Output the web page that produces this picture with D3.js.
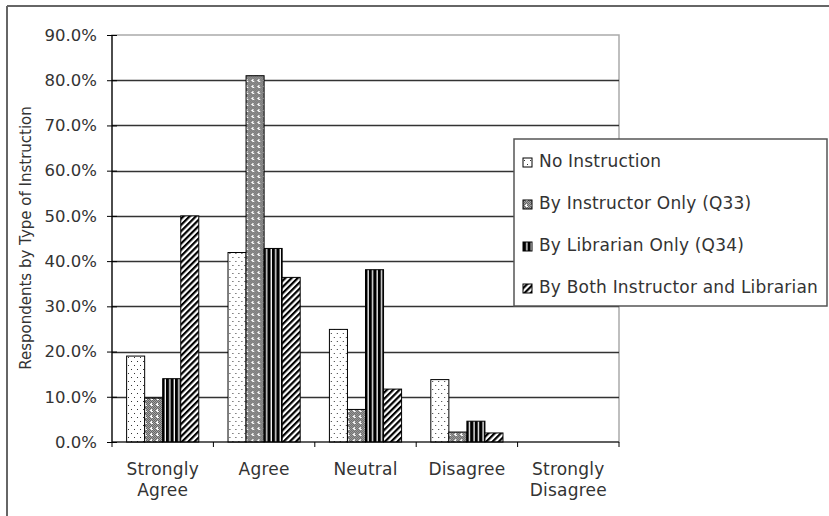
<!DOCTYPE html>
<html>
<head>
<meta charset="utf-8">
<script src="https://cdn.jsdelivr.net/npm/d3@7"></script>
<style>
  body { margin: 0; background: #fff; }
  svg { display: block; font-family: "DejaVu Sans", Verdana, sans-serif; }
</style>
</head>
<body>
<svg id="chart"></svg>
<script>
let categories = [['Strongly', 'Agree'], ['Agree'], ['Neutral'], ['Disagree'], ['Strongly', 'Disagree']];
let seriesNames = ['No Instruction', 'By Instructor Only (Q33)', 'By Librarian Only (Q34)', 'By Both Instructor and Librarian'];
let noInstruction = [19.0, 41.9, 24.9, 13.8, 0];
let instructorOnly = [9.7, 81.0, 7.2, 2.2, 0];
let librarianOnly = [14.0, 42.8, 38.1, 4.6, 0];
let bothInstructorLibrarian = [50.0, 36.4, 11.7, 2.0, 0];
let yTicks = [0, 10, 20, 30, 40, 50, 60, 70, 80, 90];

let series = [noInstruction, instructorOnly, librarianOnly, bothInstructorLibrarian];
let patternIds = ['pDots', 'pCheck', 'pVert', 'pDiag'];

let width = 829;
let height = 516;
let svg = d3.select('#chart').attr('width', width).attr('height', height);

let defs = svg.append('defs');

// dotted
let p1 = defs.append('pattern').attr('id', 'pDots').attr('patternUnits', 'userSpaceOnUse')
  .attr('width', 6).attr('height', 8);
p1.append('rect').attr('width', 6).attr('height', 8).attr('fill', '#fff');
p1.append('rect').attr('x', 1).attr('y', 1).attr('width', 1).attr('height', 1).attr('fill', '#333');
p1.append('rect').attr('x', 4).attr('y', 5).attr('width', 1).attr('height', 1).attr('fill', '#333');

// gray checker with white dots
let p2 = defs.append('pattern').attr('id', 'pCheck').attr('patternUnits', 'userSpaceOnUse')
  .attr('width', 6).attr('height', 6);
p2.append('rect').attr('width', 6).attr('height', 6).attr('fill', '#a4a4a4');
[[0, 0], [2, 0], [4, 0], [1, 1], [5, 1], [0, 2], [4, 2], [1, 3], [5, 3], [0, 4], [2, 4], [4, 4], [1, 5], [3, 5], [5, 5]].forEach(([x, y]) => {
  p2.append('rect').attr('x', x).attr('y', y).attr('width', 1).attr('height', 1).attr('fill', '#666');
});
[[3, 1], [2, 2], [3, 2], [4, 3], [3, 3]].forEach(([x, y]) => {
  p2.append('rect').attr('x', x).attr('y', y).attr('width', 1).attr('height', 1).attr('fill', '#fff');
});

// vertical stripes
let p3 = defs.append('pattern').attr('id', 'pVert').attr('patternUnits', 'userSpaceOnUse')
  .attr('width', 4.5).attr('height', 4);
p3.append('rect').attr('width', 4.5).attr('height', 4).attr('fill', '#fff');
p3.append('rect').attr('width', 3.2).attr('height', 4).attr('fill', '#000');

// diagonal stripes
let p4 = defs.append('pattern').attr('id', 'pDiag').attr('patternUnits', 'userSpaceOnUse')
  .attr('width', 4.4).attr('height', 4.4).attr('patternTransform', 'rotate(45)');
p4.append('rect').attr('width', 4.4).attr('height', 4.4).attr('fill', '#fff');
p4.append('rect').attr('width', 2.2).attr('height', 4.4).attr('fill', '#000');

// outer frame
svg.append('line').attr('x1', 7).attr('x2', width).attr('y1', 6).attr('y2', 6)
  .attr('stroke', '#666').attr('stroke-width', 2);
svg.append('line').attr('x1', 7).attr('x2', 7).attr('y1', 6).attr('y2', height)
  .attr('stroke', '#666').attr('stroke-width', 2);

let plotLeft = 112, plotRight = 619, plotTop = 35, plotBottom = 442;

let x0 = d3.scaleBand().domain(d3.range(categories.length)).range([plotLeft, plotRight]);
let x1 = d3.scaleBand().domain(d3.range(series.length)).range([0, x0.bandwidth()]).paddingOuter(0.81);
let y = d3.scaleLinear().domain([0, 90]).range([plotBottom, plotTop]);

// plot border (light)
svg.append('rect').attr('x', plotLeft).attr('y', plotTop).attr('width', plotRight - plotLeft).attr('height', plotBottom - plotTop)
  .attr('fill', 'none').attr('stroke', '#aaa').attr('stroke-width', 1.5);

// gridlines
svg.append('g').selectAll('line').data(yTicks.filter((t) => t > 0 && t < 90)).join('line')
  .attr('x1', plotLeft).attr('x2', plotRight)
  .attr('y1', (d) => Math.round(y(d)) + 0.5).attr('y2', (d) => Math.round(y(d)) + 0.5)
  .attr('stroke', '#333').attr('stroke-width', 1.3);

// bars
let groups = svg.append('g').selectAll('g').data(categories).join('g')
  .attr('transform', (d, i) => `translate(${x0(i)},0)`);
groups.selectAll('rect')
  .data((d, i) => series.map((s, k) => ({ k, v: s[i] })).filter((d) => d.v > 0))
  .join('rect')
  .attr('x', (d) => x1(d.k))
  .attr('y', (d) => y(d.v))
  .attr('width', x1.bandwidth())
  .attr('height', (d) => y(0) - y(d.v))
  .attr('fill', (d) => `url(#${patternIds[d.k]})`)
  .attr('stroke', '#000').attr('stroke-width', 1);

// y axis
let yAxis = d3.axisLeft(y).tickValues(yTicks).tickSize(5).tickPadding(10)
  .tickFormat((d) => d3.format('.1f')(d) + '%');
let ya = svg.append('g').attr('transform', `translate(${plotLeft},0)`).call(yAxis);
ya.select('.domain').remove();
ya.selectAll('.tick line').attr('x1', -5).attr('x2', 5).attr('stroke', '#000');
ya.selectAll('.tick text').attr('font-size', 16.5).attr('fill', '#333')
  .attr('font-family', '"DejaVu Sans", Verdana, sans-serif');
svg.append('line').attr('x1', plotLeft).attr('x2', plotLeft).attr('y1', plotTop).attr('y2', plotBottom)
  .attr('stroke', '#000').attr('stroke-width', 1.2);

// x axis
svg.append('line').attr('x1', plotLeft).attr('x2', plotRight).attr('y1', plotBottom).attr('y2', plotBottom)
  .attr('stroke', '#000').attr('stroke-width', 1.2);
svg.append('g').selectAll('line').data(d3.range(categories.length + 1)).join('line')
  .attr('x1', (d) => plotLeft + d * x0.step()).attr('x2', (d) => plotLeft + d * x0.step())
  .attr('y1', plotBottom).attr('y2', plotBottom + 5)
  .attr('stroke', '#000');

let labels = svg.append('g').selectAll('text').data(categories).join('text')
  .attr('text-anchor', 'middle').attr('font-size', 17).attr('fill', '#333')
  .attr('letter-spacing', 0.2)
  .attr('transform', (d, i) => `translate(${x0(i) + x0.bandwidth() / 2},475)`);
labels.selectAll('tspan').data((d) => d).join('tspan')
  .attr('x', 0).attr('dy', (d, i) => (i === 0 ? 0 : 21))
  .text((d) => d);

// y title
svg.append('text').attr('transform', 'translate(31,238) rotate(-90)')
  .attr('text-anchor', 'middle').attr('font-size', 15).attr('fill', '#333')
  .text('Respondents by Type of Instruction');

// legend
let lg = svg.append('g');
lg.append('rect').attr('x', 514).attr('y', 139).attr('width', 313).attr('height', 167)
  .attr('fill', '#fff').attr('stroke', '#555').attr('stroke-width', 1.5);
let items = lg.selectAll('g').data(seriesNames).join('g')
  .attr('transform', (d, i) => `translate(523,${167 + i * 42})`);
items.append('rect').attr('x', 0).attr('y', -9).attr('width', 9).attr('height', 9)
  .attr('fill', (d, i) => `url(#${patternIds[i]})`).attr('stroke', '#000').attr('stroke-width', 1);
items.append('text').attr('x', 16).attr('y', 0).attr('font-size', 17).attr('fill', '#333')
  .attr('letter-spacing', 0.2)
  .text((d) => d);
</script>
</body>
</html>
